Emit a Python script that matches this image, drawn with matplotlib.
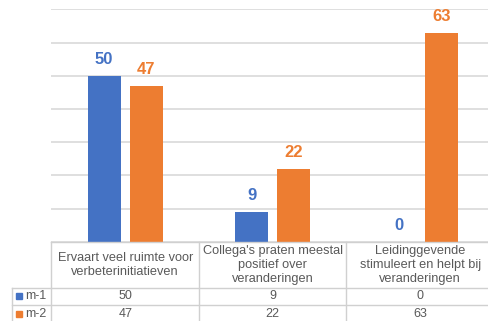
import matplotlib.pyplot as plt
import numpy as np

plt.rcParams['font.family'] = ['Liberation Sans', 'DejaVu Sans']

categories = ["Ervaart veel ruimte voor\nverbeterinitiatieven",
              "Collega's praten meestal\npositief over\nveranderingen",
              "Leidinggevende\nstimuleert en helpt bij\nveranderingen"]
series_names = ["m-1", "m-2"]
m1 = [50, 9, 0]
m2 = [47, 22, 63]
colors = ["#4472C4", "#ED7D31"]

W, H = 489, 321
fig = plt.figure(figsize=(W / 100, H / 100), dpi=100)
ax = fig.add_axes([51.5 / W, 1 - 241.7 / H, 442.5 / W, (241.7 - 9.3) / H])

x = np.arange(len(categories))
off, bw = 0.143, 0.224
for vals, dx, c in [(m1, -off, colors[0]), (m2, off, colors[1])]:
    bars = ax.bar(x + dx, vals, bw, color=c, zorder=3)
    for b, v in zip(bars, vals):
        ax.text(b.get_x() + b.get_width() / 2, v + 2.6, str(v), ha='center', va='bottom',
                color=c, fontsize=12, fontweight='bold')

ax.set_xlim(-0.5, 2.5)
ax.set_ylim(0, 70)
ax.set_yticks(range(0, 71, 10))
ax.yaxis.grid(True, color='#D9D9D9', linewidth=1.2, zorder=0)
ax.tick_params(left=False, bottom=False, labelleft=False, labelbottom=False)
for s in ax.spines.values():
    s.set_visible(False)

# data table below the plot, drawn in figure pixels
line_c = '#D0D0D0'
txt_c = '#595959'
def fx(px): return px / W
def fy(py): return 1 - py / H

y_top, y_r1, y_r2, y_bot = 241.7, 287.5, 305.0, 322.5
x_leg = 12
col_edges = [51.5 + i * 147.5 for i in range(len(categories) + 1)]

def hline(x0, x1, y):
    fig.add_artist(plt.Line2D([fx(x0), fx(x1)], [fy(y), fy(y)], color=line_c, lw=1.0))
def vline(xp, y0, y1):
    fig.add_artist(plt.Line2D([fx(xp), fx(xp)], [fy(y0), fy(y1)], color=line_c, lw=1.0))

hline(col_edges[0], W + 10, y_top)
hline(x_leg, W + 10, y_r1)
hline(x_leg, W + 10, y_r2)
hline(x_leg, W + 10, y_bot)
for i, xe in enumerate(col_edges):
    vline(xe, y_top, y_bot)
vline(x_leg, y_r1, y_bot)

for i, cat in enumerate(categories):
    cx = (col_edges[i] + col_edges[i + 1]) / 2
    fig.text(fx(cx), fy((y_top + y_r1) / 2 + 0.5), cat, ha='center', va='center',
             fontsize=9.2, color=txt_c, linespacing=1.2)
    for yr0, yr1, vals in [(y_r1, y_r2, m1), (y_r2, y_bot, m2)]:
        fig.text(fx(cx), fy((yr0 + yr1) / 2), str(vals[i]), ha='center', va='center',
                 fontsize=9, color=txt_c)

for name, c, (yr0, yr1) in zip(series_names, colors, [(y_r1, y_r2), (y_r2, y_bot)]):
    ym = (yr0 + yr1) / 2
    fig.add_artist(plt.Rectangle((fx(16), fy(ym + 3)), fx(6), 6 / H, color=c))
    fig.text(fx(25), fy(ym), name, ha='left', va='center', fontsize=9, color=txt_c)

fig.savefig('out.png', dpi=100)
